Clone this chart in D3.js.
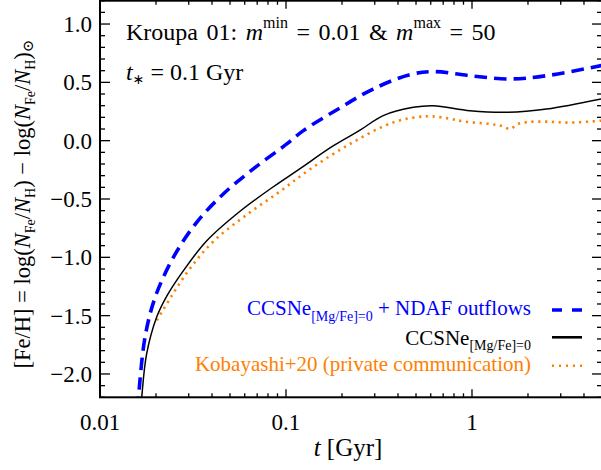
<!DOCTYPE html>
<html><head><meta charset="utf-8">
<script src="https://cdn.jsdelivr.net/npm/d3@7"></script>
<style>body{margin:0;background:#fff}svg{display:block}</style>
</head><body>
<svg id="c" width="601" height="470"></svg>
<script>
// ---- data ----
const tSolid = [0.01655, 0.01676, 0.0178, 0.0202, 0.0229, 0.0281, 0.0374, 0.0566, 0.0855, 0.1164, 0.18, 0.25, 0.333, 0.4835, 0.619, 0.975, 1.54, 2.52, 5.0];
const feSolid = [-2.3, -2.2, -1.83, -1.51, -1.33, -1.114, -0.86, -0.605, -0.395, -0.25, -0.043, 0.09, 0.215, 0.286, 0.30, 0.257, 0.243, 0.272, 0.36];
const tDash = [0.0159, 0.0161, 0.01746, 0.0198, 0.0248, 0.0331, 0.046, 0.0667, 0.101, 0.124, 0.191, 0.294, 0.464, 0.619, 0.975, 1.6, 2.52, 5.0];
const feDash = [-2.3, -2.2, -1.685, -1.342, -1.0, -0.70, -0.457, -0.242, -0.028, 0.086, 0.272, 0.443, 0.566, 0.592, 0.557, 0.529, 0.557, 0.645];
const tDot = [0.0202, 0.0243, 0.0305, 0.0406, 0.0615, 0.0929, 0.1346, 0.221, 0.378, 0.57, 0.746, 0.9, 1.25, 1.45, 1.6, 1.75, 2.0, 2.52, 3.36, 5.0];
const feDot = [-1.54, -1.33, -1.095, -0.865, -0.635, -0.435, -0.245, -0.028, 0.157, 0.209, 0.191, 0.165, 0.143, 0.125, 0.10, 0.14, 0.16, 0.163, 0.155, 0.172];
const xMajor = [0.01, 0.1, 1];
const xMajorLabels = ["0.01", "0.1", "1"];
const yMajor = [1.0, 0.5, 0.0, -0.5, -1.0, -1.5, -2.0];
const yMajorLabels = ["1.0", "0.5", "0.0", "\u22120.5", "\u22121.0", "\u22121.5", "\u22122.0"];

// ---- layout ----
const L = 100, R = 602, T = 0.7, B = 397.3;
const FONT = "'Liberation Serif','Times New Roman',serif";
const svg = d3.select("#c");
const x = d3.scaleLog().domain([0.01, 5]).range([L, R]);
const y = d3.scaleLinear().domain([-2.2, 1.2]).range([B, T]);

svg.append("defs").append("clipPath").attr("id", "clip")
  .append("rect").attr("x", L).attr("y", T).attr("width", R - L).attr("height", B - T);

const line = d3.line().x(d => x(d[0])).y(d => y(d[1])).curve(d3.curveCatmullRom.alpha(0.5));
const zip = (a, b) => a.map((v, i) => [v, b[i]]);
const g = svg.append("g").attr("clip-path", "url(#clip)");
g.append("path").attr("d", line(zip(tDot, feDot))).attr("fill", "none")
  .attr("stroke", "#ff8000").attr("stroke-width", 2.6).attr("stroke-dasharray", "2.2,4.6");
g.append("path").attr("d", line(zip(tSolid, feSolid))).attr("fill", "none")
  .attr("stroke", "#000").attr("stroke-width", 1.5);
g.append("path").attr("d", line(zip(tDash, feDash))).attr("fill", "none")
  .attr("stroke", "#0000ff").attr("stroke-width", 3.6).attr("stroke-dasharray", "12.5,7");

// ---- ticks ----
const xMinor = [];
[0.01, 0.1, 1].forEach(d => { for (let k = 2; k <= 9; k++) if (d * k <= 5) xMinor.push(d * k); });
const yMinor = d3.range(-22, 13).map(v => v / 10).filter(v => Math.abs(v * 2 - Math.round(v * 2)) > 1e-6);

const ax = svg.append("g").attr("stroke", "#000").attr("stroke-width", 1.3);
xMajor.forEach(v => {
  ax.append("line").attr("x1", x(v)).attr("x2", x(v)).attr("y1", B).attr("y2", B - 8);
  ax.append("line").attr("x1", x(v)).attr("x2", x(v)).attr("y1", T).attr("y2", T + 8);
});
xMinor.forEach(v => {
  ax.append("line").attr("x1", x(v)).attr("x2", x(v)).attr("y1", B).attr("y2", B - 4);
  ax.append("line").attr("x1", x(v)).attr("x2", x(v)).attr("y1", T).attr("y2", T + 4);
});
yMajor.forEach(v => {
  ax.append("line").attr("x1", L).attr("x2", L + 10).attr("y1", y(v)).attr("y2", y(v));
  ax.append("line").attr("x1", R).attr("x2", R - 10).attr("y1", y(v)).attr("y2", y(v));
});
yMinor.forEach(v => {
  ax.append("line").attr("x1", L).attr("x2", L + 5).attr("y1", y(v)).attr("y2", y(v));
  ax.append("line").attr("x1", R).attr("x2", R - 5).attr("y1", y(v)).attr("y2", y(v));
});
svg.append("rect").attr("x", L).attr("y", T).attr("width", R - L).attr("height", B - T)
  .attr("fill", "none").attr("stroke", "#000").attr("stroke-width", 2);

// tick labels
svg.append("g").selectAll("text").data(xMajor).join("text")
  .attr("x", d => x(d)).attr("y", 430).attr("text-anchor", "middle")
  .attr("font-family", FONT).attr("font-size", 23).text((d, i) => xMajorLabels[i]);
svg.append("g").selectAll("text").data(yMajor).join("text")
  .attr("x", 92).attr("y", d => y(d) + 8).attr("text-anchor", "end")
  .attr("font-family", FONT).attr("font-size", 23).text((d, i) => yMajorLabels[i]);

// ---- rich text helper ----
function rich(sel, parts) {
  parts.forEach(p => {
    const ts = sel.append("tspan").text(p.t);
    if (p.i) ts.attr("font-style", "italic");
    if (p.s) ts.attr("font-size", p.s);
    if (p.dy) ts.attr("dy", p.dy);
    if (p.f) ts.attr("font-family", p.f);
  });
  return sel;
}

// x label
rich(svg.append("text").attr("x", 348).attr("y", 456).attr("text-anchor", "middle")
  .attr("font-family", FONT).attr("font-size", 25),
  [{t: "t", i: true}, {t: " [Gyr]"}]);

// y label
rich(svg.append("text").attr("transform", "translate(30,204) rotate(-90)").attr("text-anchor", "middle")
  .attr("font-family", FONT).attr("font-size", 22.5),
  [{t: "[Fe/H] = log("}, {t: "N", i: true}, {t: "Fe", s: 14, dy: 5}, {t: "/", dy: -5},
   {t: "N", i: true}, {t: "H", s: 14, dy: 5}, {t: ") \u2212 log(", dy: -5}, {t: "N", i: true},
   {t: "Fe", s: 14, dy: 5}, {t: "/", dy: -5}, {t: "N", i: true}, {t: "H", s: 14, dy: 5},
   {t: ")", dy: -5}, {t: "\u2299", s: 15, dy: 3, f: "'DejaVu Serif',serif"}]);

// annotations
rich(svg.append("text").attr("x", 126).attr("y", 40).attr("font-family", FONT).attr("font-size", 24)
  .attr("word-spacing", 2.5),
  [{t: "Kroupa 01: "}, {t: "m", i: true}, {t: "min", s: 16, dy: -12}, {t: " = 0.01 & ", dy: 12},
   {t: "m", i: true}, {t: "max", s: 16, dy: -12}, {t: " = 50", dy: 12}]);
rich(svg.append("text").attr("x", 126).attr("y", 80).attr("font-family", FONT).attr("font-size", 24),
  [{t: "t", i: true}, {t: "\u2217", s: 14, dy: 4, f: "'DejaVu Sans',sans-serif"}, {t: " = 0.1 Gyr", dy: -4}]);

// ---- legend ----
const legTextX = 531, legL = 552, legR = 582;
const legColors = ["#0000ff", "#000", "#ff8000"];
const legBase = [315, 345, 370.5];
const legLineY = [310, 337.3, 365.7];
rich(svg.append("text").attr("x", legTextX).attr("y", legBase[0]).attr("text-anchor", "end")
  .attr("font-family", FONT).attr("font-size", 21).attr("fill", legColors[0]),
  [{t: "CCSNe"}, {t: "[Mg/Fe]=0", s: 14, dy: 6}, {t: " + NDAF outflows", dy: -6}]);
rich(svg.append("text").attr("x", legTextX).attr("y", legBase[1]).attr("text-anchor", "end")
  .attr("font-family", FONT).attr("font-size", 21).attr("fill", legColors[1]),
  [{t: "CCSNe"}, {t: "[Mg/Fe]=0", s: 14, dy: 5}]);
rich(svg.append("text").attr("x", legTextX).attr("y", legBase[2]).attr("text-anchor", "end")
  .attr("font-family", FONT).attr("font-size", 21).attr("fill", legColors[2]),
  [{t: "Kobayashi+20 (private communication)"}]);
svg.append("line").attr("x1", legL).attr("x2", legR).attr("y1", legLineY[0]).attr("y2", legLineY[0])
  .attr("stroke", legColors[0]).attr("stroke-width", 3.6).attr("stroke-dasharray", "10,10");
svg.append("line").attr("x1", legL).attr("x2", legR).attr("y1", legLineY[1]).attr("y2", legLineY[1])
  .attr("stroke", legColors[1]).attr("stroke-width", 2.6);
svg.append("line").attr("x1", legL).attr("x2", legR).attr("y1", legLineY[2]).attr("y2", legLineY[2])
  .attr("stroke", legColors[2]).attr("stroke-width", 2.4).attr("stroke-dasharray", "2,5");
</script>
</body></html>
